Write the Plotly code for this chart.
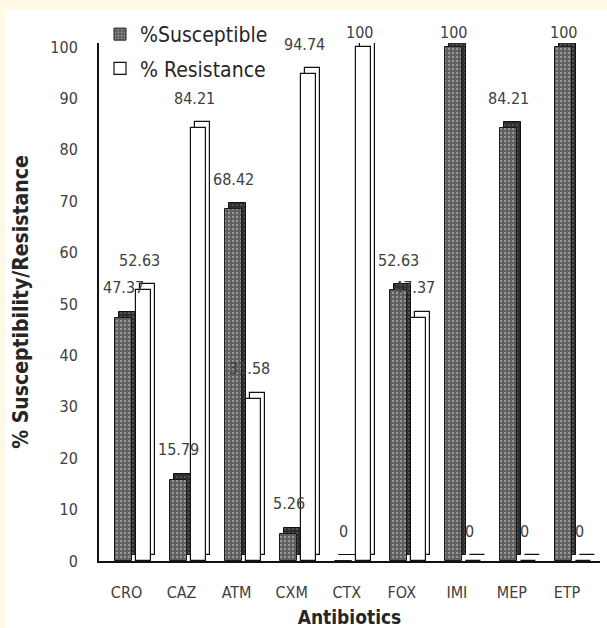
import plotly.graph_objects as go

# ---------------- data ----------------
antibiotics = ["CRO", "CAZ", "ATM", "CXM", "CTX", "FOX", "IMI", "MEP", "ETP"]
susceptible = [47.37, 15.79, 68.42, 5.26, 0, 52.63, 100, 84.21, 100]
resistance = [52.63, 84.21, 31.58, 94.74, 100, 47.37, 0, 0, 0]
susceptible_labels = ["47.37", "15.79", "68.42", "5.26", "0", "52.63", "100", "84.21", "100"]
resistance_labels = ["52.63", "84.21", "31.58", "94.74", "100", "47.37", "0", "0", "0"]
y_ticks = [0, 10, 20, 30, 40, 50, 60, 70, 80, 90, 100]

# ---------------- style / layout ----------------
W, H = 607, 628
ML, MR, MT, MB = 99, 7, 43, 67
PW, PH = W - ML - MR, H - MT - MB
X_RANGE = [-0.5, 8.6]
Y_RANGE = [0, 100.78]
PX_PER_CAT = PW / (X_RANGE[1] - X_RANGE[0])
PX_PER_UNIT = PH / (Y_RANGE[1] - Y_RANGE[0])

FONT = "DejaVu Sans Condensed, Liberation Sans Narrow, Roboto, sans-serif"
DEPTH_X_PX, DEPTH_Y_PX = 4, 6
dx = DEPTH_X_PX / PX_PER_CAT
dy = DEPTH_Y_PX / PX_PER_UNIT

S_OFF, S_W = -0.21, 0.31
R_OFF, R_W = 0.17, 0.27

def label_shift(v):
    return 15 if v >= 99 else 30

fig = go.Figure()

# back (depth) faces
fig.add_trace(go.Bar(
    x=antibiotics, y=susceptible, base=dy, offset=S_OFF + dx, width=S_W,
    marker=dict(color="#2f2f2f", line=dict(color="#111111", width=1),
                pattern=dict(shape=".", fgcolor="#8a8a8a", size=4, solidity=0.2, fillmode="overlay")),
    showlegend=False, hoverinfo="skip"))
fig.add_trace(go.Bar(
    x=antibiotics, y=resistance, base=dy, offset=R_OFF + dx, width=R_W,
    marker=dict(color="white", line=dict(color="#111111", width=1.2)),
    showlegend=False, hoverinfo="skip"))

# front faces
fig.add_trace(go.Bar(
    name="%Susceptible", x=antibiotics, y=susceptible, offset=S_OFF, width=S_W,
    legendgroup="s",
    marker=dict(color="#5e5e5e", line=dict(color="#1a1a1a", width=1),
                pattern=dict(shape=".", fgcolor="#d6d6d6", size=4, solidity=0.25, fillmode="overlay"))))
fig.add_trace(go.Bar(
    name="% Resistance", x=antibiotics, y=resistance, offset=R_OFF, width=R_W,
    legendgroup="r",
    marker=dict(color="white", line=dict(color="#111111", width=1.2))))

annotations = []
for cat, v, t in zip(antibiotics, susceptible, susceptible_labels):
    annotations.append(dict(x=cat, y=v, text=t, showarrow=False, xshift=-3, yshift=label_shift(v),
                            font=dict(family=FONT, size=16, color="#404040")))
for cat, v, t in zip(antibiotics, resistance, resistance_labels):
    annotations.append(dict(x=cat, y=v, text=t, showarrow=False, xshift=13, yshift=label_shift(v),
                            font=dict(family=FONT, size=16, color="#404040")))

# white inner panel over cream background (pixels -> paper coords)
def px_to_paper_x(px):
    return (px - ML) / PW

def px_to_paper_y(py):
    return (H - MB - py) / PH

shapes = [dict(type="rect", xref="paper", yref="paper", layer="below",
               x0=px_to_paper_x(5), x1=px_to_paper_x(W + 2),
               y0=px_to_paper_y(H + 2), y1=px_to_paper_y(10),
               fillcolor="white", line=dict(width=0))]

fig.update_layout(
    width=W, height=H,
    margin=dict(l=ML, r=MR, t=MT, b=MB, autoexpand=False),
    paper_bgcolor="#FFF9E6", plot_bgcolor="white",
    barmode="overlay", bargap=0,
    font=dict(family=FONT, size=16, color="#404040"),
    shapes=shapes, annotations=annotations,
    legend=dict(x=px_to_paper_x(100), y=px_to_paper_y(14), xanchor="left", yanchor="top",
                bgcolor="rgba(0,0,0,0)", font=dict(family=FONT, size=21, color="#262626"),
                traceorder="grouped", tracegroupgap=4, itemwidth=30),
    xaxis=dict(range=X_RANGE, showgrid=False, showline=True, linecolor="#111111", linewidth=2,
               automargin=False,
               ticks="", ticklabelstandoff=16, tickfont=dict(family=FONT, size=16, color="#404040"),
               title=dict(text="<b>Antibiotics</b>", font=dict(family=FONT, size=19, color="#262626"), standoff=10)),
    yaxis=dict(range=Y_RANGE, tickvals=y_ticks, showgrid=False, showline=True, linecolor="#111111", linewidth=2,
               automargin=False,
               ticks="", ticklabelstandoff=16, tickfont=dict(family=FONT, size=16, color="#404040"),
               zeroline=False,
               title=dict(text="<b>% Susceptibility/Resistance</b>", font=dict(family=FONT, size=21, color="#262626"),
                          standoff=16)),
)

fig.write_html("out.html")
